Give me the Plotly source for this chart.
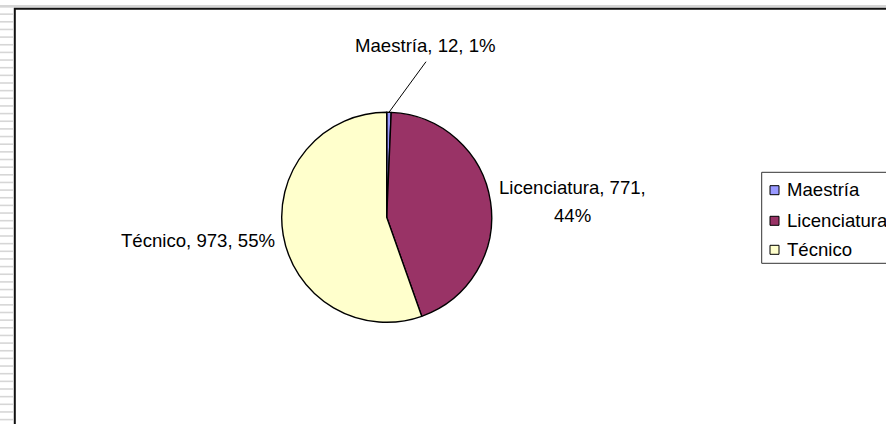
import math
import plotly.graph_objects as go

# ---- data ----
categories = ["Maestría", "Licenciatura", "Técnico"]
values = [12, 771, 973]
colors = ["#9999FF", "#993366", "#FFFFCC"]

W, H = 886, 424
FONT = "Liberation Sans, Arial, sans-serif"
FS = 18.6


def px(x):
    return x / W


def py(y):
    return 1 - y / H


total = sum(values)
pcts = [round(100 * v / total) for v in values]

# pie geometry (pixels)
cx, cy, r = 386.7, 217.3, 105.0

fig = go.Figure()
fig.add_trace(go.Pie(
    labels=categories,
    values=values,
    marker=dict(colors=colors, line=dict(color="black", width=1.4)),
    sort=False,
    direction="clockwise",
    rotation=0,
    textinfo="none",
    showlegend=False,
    domain=dict(x=[px(cx - r), px(cx + r)], y=[py(cy + r), py(cy - r)]),
))

shapes = []
annotations = []

# spreadsheet background decoration (row lines at left, band at top)
k = 0
while 6.5 + k * 7.65 < H:
    yy = 6.5 + k * 7.65
    shapes.append(dict(type="line", xref="paper", yref="paper",
                       x0=px(0), x1=px(13), y0=py(yy), y1=py(yy),
                       line=dict(color="#d6d6d6", width=1.6), layer="below"))
    k += 1
shapes.append(dict(type="rect", xref="paper", yref="paper",
                   x0=px(0), x1=px(W + 10), y0=py(5), y1=py(7.4),
                   fillcolor="#d6d6d6", line=dict(width=0), layer="below"))
# chart area border
shapes.append(dict(type="rect", xref="paper", yref="paper",
                   x0=px(14.8), x1=px(W + 20), y0=py(8.8), y1=py(H + 20),
                   fillcolor="rgba(0,0,0,0)", line=dict(color="#111111", width=2)))

# data labels
# Maestría with leader line to the slice edge
frac_mid = (values[0] / 2) / total
ang = 2 * math.pi * frac_mid
tipx = cx + r * math.sin(ang)
tipy = cy - r * math.cos(ang)
annotations.append(dict(
    x=px(425.3), y=py(45.8), xref="paper", yref="paper",
    text=f"{categories[0]}, {values[0]}, {pcts[0]}%", showarrow=False,
    xanchor="center", yanchor="middle",
    font=dict(family=FONT, size=FS, color="black"),
))
shapes.append(dict(type="line", xref="paper", yref="paper",
                   x0=px(426.0), y0=py(61.7), x1=px(tipx), y1=py(tipy),
                   line=dict(color="black", width=1)))
# Licenciatura (two lines)
annotations.append(dict(
    x=px(572.4), y=py(187.2), xref="paper", yref="paper",
    text=f"{categories[1]}, {values[1]},", showarrow=False,
    xanchor="center", yanchor="middle",
    font=dict(family=FONT, size=FS, color="black"),
))
annotations.append(dict(
    x=px(572.4), y=py(215.0), xref="paper", yref="paper",
    text=f"{pcts[1]}%", showarrow=False,
    xanchor="center", yanchor="middle",
    font=dict(family=FONT, size=FS, color="black"),
))
# Técnico
annotations.append(dict(
    x=px(276.5), y=py(240.7), xref="paper", yref="paper",
    text=f"{categories[2]}, {values[2]}, {pcts[2]}%", showarrow=False,
    xanchor="right", yanchor="middle",
    font=dict(family=FONT, size=FS, color="black"),
))

# legend (Excel-style box, partly cut off at the right edge)
leg_left, leg_top, leg_bottom = 761.7, 172.3, 263.3
shapes.append(dict(type="rect", xref="paper", yref="paper",
                   x0=px(leg_left), x1=px(W + 20), y0=py(leg_top), y1=py(leg_bottom),
                   fillcolor="white", line=dict(color="#333333", width=1)))
item_y = [190.2, 220.8, 249.8]
for name, col, yy in zip(categories, colors, item_y):
    shapes.append(dict(type="rect", xref="paper", yref="paper",
                       x0=px(770), x1=px(779), y0=py(yy - 4.5), y1=py(yy + 4.5),
                       fillcolor=col, line=dict(color="black", width=1)))
    annotations.append(dict(
        x=px(784.5), y=py(yy - 0.5), xref="paper", yref="paper",
        text=name, showarrow=False, xanchor="left", yanchor="middle",
        font=dict(family=FONT, size=FS, color="black"),
    ))

fig.update_layout(
    width=W, height=H,
    margin=dict(l=0, r=0, t=0, b=0, pad=0, autoexpand=False),
    paper_bgcolor="white",
    plot_bgcolor="white",
    showlegend=False,
    shapes=shapes,
    annotations=annotations,
    font=dict(family=FONT, size=FS, color="black"),
)

fig.write_html(
    "out.html",
    config={"displayModeBar": False},
    post_script="document.body.style.margin='0';document.body.style.overflow='hidden';",
)
